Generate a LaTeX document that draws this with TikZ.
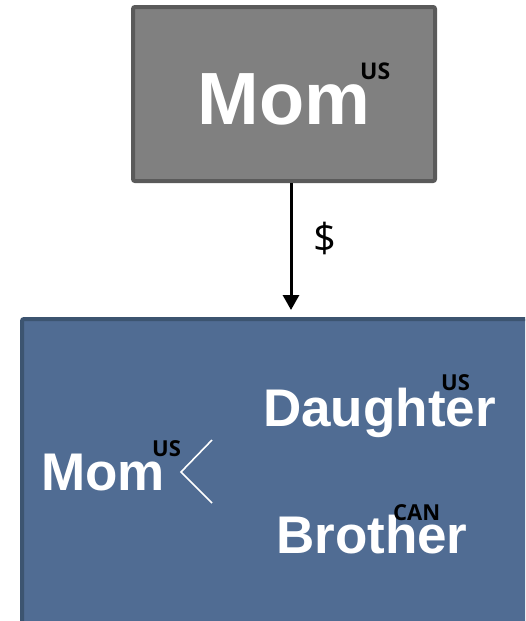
\documentclass[tikz,border=0pt]{standalone}
\usepackage{fontspec}
\setmainfont{Liberation Sans}
\newfontfamily\supf{Open Sans}
\usetikzlibrary{arrows.meta}
\definecolor{topfill}{HTML}{808080}
\definecolor{topline}{HTML}{5A5A5A}
\definecolor{botfill}{HTML}{506C93}
\definecolor{botline}{HTML}{3C5470}
\tikzset{
  topbox/.style={draw=topline, fill=topfill, line width=4pt, rounded corners=2pt, minimum width=302pt, minimum height=174pt, inner sep=0pt},
  botbox/.style={draw=botline, fill=botfill, line width=4pt, rounded corners=2pt, minimum width=520pt, minimum height=310pt, inner sep=0pt},
  bigtxt/.style={text=white, font=\fontsize{74}{80}\selectfont\bfseries, inner sep=0pt, anchor=base},
  midtxt/.style={text=white, font=\fontsize{53}{58}\selectfont\bfseries, inner sep=0pt, anchor=base west},
  suptxt/.style={text=black, font=\supf\fontsize{22}{24}\selectfont\bfseries, inner sep=0pt, anchor=base west},
  arr/.style={line width=3pt, -{Triangle[width=16pt,length=15pt]}, shorten >=7pt},
}
\begin{document}
\begin{tikzpicture}[x=1pt,y=-1pt]
\clip (0,0) rectangle (525,621);
\fill[white] (0,0) rectangle (525,621);
\node[topbox] (mombox) at (284,94) {};
\node[botbox] (familybox) at (282,474) {};
\draw[arr] (mombox.south -| 291,0) -- (familybox.north -| 291,0);
\node[font=\supf\fontsize{40}{42}\selectfont, inner sep=0pt, anchor=base west] (dollar) at (313,252) {\$};
\node[bigtxt] (momtop) at (284,124) {Mom};
\node[suptxt, font=\supf\fontsize{23}{24}\selectfont\bfseries] (ustop) at (360,79) {US};
\node[midtxt] (mombot) at (41,490) {Mom};
\node[suptxt] (usmom) at (152,456) {US};
\draw[white, line width=1.6pt] (212,440) -- (181,472) -- (212,503);
\node[midtxt] (daughter) at (263,426) {Daughter};
\node[suptxt] (usdau) at (441,390) {US};
\node[midtxt] (brother) at (276,553) {Brother};
\node[suptxt] (can) at (393,520) {CAN};
\end{tikzpicture}
\end{document}
